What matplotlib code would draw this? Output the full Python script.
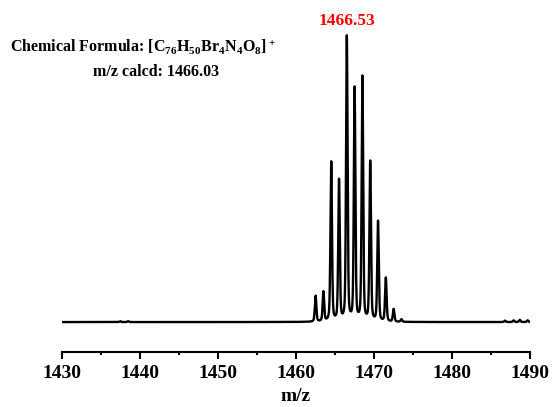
import numpy as np
import matplotlib.pyplot as plt

plt.rcParams['font.family'] = 'Liberation Serif'
plt.rcParams['font.weight'] = 'bold'
plt.rcParams['mathtext.fontset'] = 'custom'
plt.rcParams['mathtext.rm'] = 'Liberation Serif:bold'
plt.rcParams['mathtext.it'] = 'Liberation Serif:bold'
plt.rcParams['mathtext.bf'] = 'Liberation Serif:bold'

# isotope cluster (m/z, relative intensity)
peak_mz = [1462.53, 1463.53, 1464.53, 1465.53, 1466.53, 1467.53,
           1468.53, 1469.53, 1470.53, 1471.53, 1472.53, 1473.53]
peak_int = [9.0, 10.3, 55.5, 49.0, 99.0, 81.0,
            85.0, 55.5, 34.8, 15.2, 4.4, 0.9]
# small noise bumps near the edges of the window
noise_mz = [1437.5, 1438.5, 1486.8, 1487.9, 1488.7, 1489.7]
noise_int = [0.3, 0.3, 0.5, 0.6, 0.8, 0.6]

top_label = '1466.53'
calcd = '1466.03'

# pseudo-Voigt peak profile
mz = np.linspace(1430, 1490, 12001)
signal = np.zeros_like(mz)
for c, h in zip(peak_mz + noise_mz, peak_int + noise_int):
    g = np.exp(-0.5 * ((mz - c) / 0.1) ** 2)
    l = 1.0 / (1.0 + ((mz - c) / 0.11) ** 2)
    signal += h * (0.6 * g + 0.4 * l)

fig = plt.figure(figsize=(5.52, 4.07), dpi=100)
ax = fig.add_axes([0.112, 0.135, 0.848, 0.840])
ax.plot(mz, signal, color='black', lw=1.7)

ax.set_xlim(1430, 1490)
ax.set_ylim(-10.44, 108.6)
for s in ['top', 'left', 'right']:
    ax.spines[s].set_visible(False)
ax.spines['bottom'].set_linewidth(1.5)
ax.set_yticks([])
ax.set_xticks(np.arange(1430, 1491, 10))
ax.set_xticks(np.arange(1435, 1490, 10), minor=True)
ax.tick_params(axis='x', which='major', direction='out', length=5, width=1.5,
               labelsize=14, pad=4)
ax.tick_params(axis='x', which='minor', direction='out', length=2.5, width=1.5)
ax.set_xlabel('m/z', fontsize=14, fontweight='bold', labelpad=5)

ax.annotate(top_label, xy=(1466.53, 100), xytext=(0, 4), textcoords='offset points',
            ha='center', va='bottom', color='red', fontsize=12.5, fontweight='bold')

fig.text(10 / 552, 1 - 46 / 407,
         r'Chemical Formula: [C$_{76}$H$_{50}$Br$_4$N$_4$O$_8$]$^+$',
         ha='left', va='center', fontsize=11.5, fontweight='bold')
fig.text(156 / 552, 1 - 72 / 407, 'm/z calcd: ' + calcd,
         ha='center', va='center', fontsize=11.5, fontweight='bold')

fig.savefig('out.png', dpi=100)
